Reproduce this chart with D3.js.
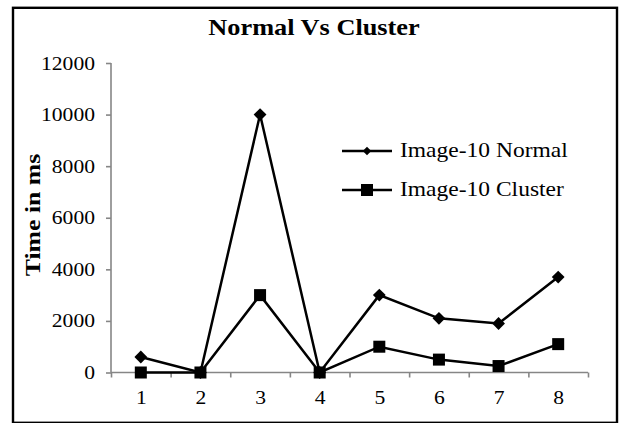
<!DOCTYPE html>
<head>
  <meta charset="utf-8">
  <script src="https://d3js.org/d3.v7.min.js"></script>
  <style>
    body { margin: 0; background: #fff; }
    svg { display: block; }
    text { font-family: "Liberation Serif", "Times New Roman", serif; fill: #000; }
  </style>
</head>

<body>
  <svg width="625" height="423"></svg>
  <script>
    // data
    var categories = [1, 2, 3, 4, 5, 6, 7, 8];
    var normalValues = [600, 0, 10000, 0, 3000, 2100, 1900, 3700];
    var clusterValues = [0, 0, 3000, 0, 1000, 500, 250, 1100];
    var seriesNames = ["Image-10 Normal", "Image-10 Cluster"];
    var yTicks = [0, 2000, 4000, 6000, 8000, 10000, 12000];

    // layout
    var plot = {left: 111, right: 588, top: 63, bottom: 372.5};
    var stretch = 1.2; // text in the picture is a bit wide

    var svg = d3.select('svg');

    // frame
    svg.append('rect')
      .attr('x', 13).attr('y', 7.8)
      .attr('width', 604).attr('height', 415)
      .attr('fill', 'none')
      .attr('stroke', '#000')
      .attr('stroke-width', 2.4);

    // scales
    var x = d3.scaleLinear()
      .domain([0.5, categories.length + 0.5])
      .range([plot.left, plot.right]);
    var y = d3.scaleLinear()
      .domain([0, 12000])
      .range([plot.bottom, plot.top]);

    // y axis
    var yAxis = d3.axisLeft(y).tickValues(yTicks).tickSize(5).tickFormat(d3.format('d'));
    var gy = svg.append('g')
      .attr('transform', 'translate(' + plot.left + ',0)')
      .call(yAxis);
    gy.selectAll('text')
      .attr('x', 0)
      .attr('dy', null)
      .attr('transform', 'translate(-16,6) scale(' + stretch + ',1)')
      .style('font-size', '18px');

    // x axis: ticks between categories
    var xAxisTicks = d3.axisBottom(x)
      .tickValues(d3.range(0.5, categories.length + 1, 1))
      .tickSize(5).tickFormat('');
    var gx = svg.append('g')
      .attr('transform', 'translate(0,' + plot.bottom + ')')
      .call(xAxisTicks);

    // x labels at category centers
    var xAxisLabels = d3.axisBottom(x).tickValues(categories).tickSize(0).tickFormat(d3.format('d'));
    var gxl = svg.append('g')
      .attr('transform', 'translate(0,' + plot.bottom + ')')
      .call(xAxisLabels);
    gxl.select('.domain').remove();
    gxl.selectAll('text')
      .attr('y', 0).attr('dy', null)
      .attr('transform', 'translate(0,31) scale(' + stretch + ',1)')
      .style('font-size', '18px');

    [gy, gx].forEach(function(g) {
      g.selectAll('.domain').attr('stroke', '#868686').attr('stroke-width', 1.6);
      g.selectAll('.tick line').attr('stroke', '#868686').attr('stroke-width', 1.6);
    });
    gx.select('.domain').attr('d', 'M' + plot.left + ',0H' + plot.right);
    gy.select('.domain').attr('d', 'M0,' + plot.top + 'V' + plot.bottom);

    // lines
    var line = d3.line()
      .x(function(d, i) { return x(categories[i]); })
      .y(function(d) { return y(d); });

    [normalValues, clusterValues].forEach(function(vals) {
      svg.append('path')
        .datum(vals)
        .attr('d', line)
        .attr('fill', 'none')
        .attr('stroke', '#000')
        .attr('stroke-width', 2.5)
        .attr('stroke-linejoin', 'miter');
    });

    // markers (diamond = square turned 45deg)
    var diamond = d3.symbol().type(d3.symbolSquare).size(82);
    svg.selectAll('.diamond')
      .data(normalValues)
      .enter().append('path')
      .attr('class', 'diamond')
      .attr('d', diamond)
      .attr('transform', function(d, i) { return 'translate(' + x(categories[i]) + ',' + y(d) + ') rotate(45)'; })
      .attr('fill', '#000');

    svg.selectAll('.square')
      .data(clusterValues)
      .enter().append('rect')
      .attr('class', 'square')
      .attr('x', function(d, i) { return x(categories[i]) - 6; })
      .attr('y', function(d) { return y(d) - 6; })
      .attr('width', 12).attr('height', 12)
      .attr('fill', '#000');

    // title
    svg.append('text')
      .attr('transform', 'translate(314,35) scale(' + 1.17 + ',1)')
      .attr('text-anchor', 'middle')
      .style('font-size', '22.5px')
      .style('font-weight', 'bold')
      .text('Normal Vs Cluster');

    // y label
    svg.append('text')
      .attr('transform', 'translate(40,215) rotate(-90) scale(1.17,1)')
      .attr('text-anchor', 'middle')
      .style('font-size', '22px')
      .style('font-weight', 'bold')
      .text('Time in ms');

    // legend
    var legendY = [151, 190];
    var legend = svg.selectAll('.legend')
      .data(seriesNames)
      .enter().append('g')
      .attr('class', 'legend')
      .attr('transform', function(d, i) { return 'translate(342,' + legendY[i] + ')'; });
    legend.append('line')
      .attr('x1', 0).attr('x2', 50)
      .attr('stroke', '#000').attr('stroke-width', 2.5);
    legend.filter(function(d, i) { return i === 0; })
      .append('path')
      .attr('d', d3.symbol().type(d3.symbolSquare).size(36))
      .attr('transform', 'translate(25,0) rotate(45)')
      .attr('fill', '#000');
    legend.filter(function(d, i) { return i === 1; })
      .append('rect')
      .attr('x', 19).attr('y', -6).attr('width', 12).attr('height', 12)
      .attr('fill', '#000');
    legend.append('text')
      .attr('transform', 'translate(58,6) scale(1.12,1)')
      .style('font-size', '21px')
      .text(function(d) { return d; });
  </script>
</body>
</html>
